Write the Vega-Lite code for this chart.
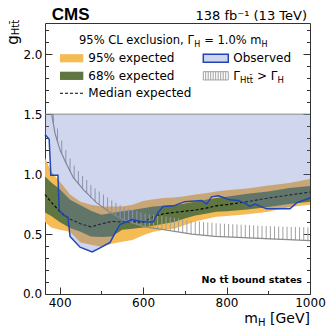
{
  "$schema": "https://vega.github.io/schema/vega-lite/v6.json",
  "width": 265,
  "height": 271,
  "autosize": {"type": "none"},
  "padding": {"left": 45, "top": 23, "right": 23, "bottom": 39},
  "background": "white",
  "config": {
    "view": {"stroke": "#333", "strokeWidth": 1},
    "axis": {"domain": false, "grid": false, "labelFont": "DejaVu Sans", "labelFontSize": 12, "labelColor": "#000", "tickColor": "#333", "tickWidth": 1, "labelOverlap": false, "labelBound": false, "labelFlush": false},
    "text": {"font": "DejaVu Sans", "color": "#000"}
  },
  "resolve": {"axis": {"y": "independent"}},
  "datasets": {
    "bands": [
      {"m":365,"lo95":0.60,"lo68":0.68,"med":0.83,"hi68":0.98,"hi95":1.135},
      {"m":380,"lo95":0.555,"lo68":0.65,"med":0.765,"hi68":0.93,"hi95":1.02},
      {"m":400,"lo95":0.535,"lo68":0.60,"med":0.69,"hi68":0.875,"hi95":0.94},
      {"m":425,"lo95":0.52,"lo68":0.55,"med":0.625,"hi68":0.785,"hi95":0.83},
      {"m":450,"lo95":0.43,"lo68":0.52,"med":0.585,"hi68":0.74,"hi95":0.77},
      {"m":475,"lo95":0.41,"lo68":0.48,"med":0.56,"hi68":0.695,"hi95":0.745},
      {"m":500,"lo95":0.395,"lo68":0.475,"med":0.585,"hi68":0.66,"hi95":0.73},
      {"m":525,"lo95":0.42,"lo68":0.48,"med":0.605,"hi68":0.675,"hi95":0.73},
      {"m":550,"lo95":0.435,"lo68":0.535,"med":0.60,"hi68":0.69,"hi95":0.73},
      {"m":575,"lo95":0.45,"lo68":0.545,"med":0.60,"hi68":0.70,"hi95":0.745},
      {"m":600,"lo95":0.49,"lo68":0.555,"med":0.60,"hi68":0.715,"hi95":0.775},
      {"m":625,"lo95":0.52,"lo68":0.57,"med":0.645,"hi68":0.73,"hi95":0.79},
      {"m":650,"lo95":0.535,"lo68":0.585,"med":0.67,"hi68":0.735,"hi95":0.80},
      {"m":675,"lo95":0.545,"lo68":0.60,"med":0.68,"hi68":0.74,"hi95":0.805},
      {"m":700,"lo95":0.575,"lo68":0.63,"med":0.69,"hi68":0.755,"hi95":0.815},
      {"m":725,"lo95":0.605,"lo68":0.655,"med":0.70,"hi68":0.77,"hi95":0.83},
      {"m":750,"lo95":0.625,"lo68":0.67,"med":0.715,"hi68":0.785,"hi95":0.84},
      {"m":775,"lo95":0.645,"lo68":0.685,"med":0.735,"hi68":0.80,"hi95":0.855},
      {"m":800,"lo95":0.65,"lo68":0.69,"med":0.745,"hi68":0.81,"hi95":0.865},
      {"m":850,"lo95":0.665,"lo68":0.705,"med":0.77,"hi68":0.835,"hi95":0.88},
      {"m":900,"lo95":0.685,"lo68":0.725,"med":0.80,"hi68":0.855,"hi95":0.905},
      {"m":950,"lo95":0.725,"lo68":0.75,"med":0.825,"hi68":0.885,"hi95":0.925},
      {"m":1000,"lo95":0.745,"lo68":0.77,"med":0.85,"hi68":0.90,"hi95":0.96}
    ],
    "obs": [
      {"m":365,"g":1.33},{"m":375,"g":1.29},{"m":379,"g":0.99},{"m":396,"g":0.99},{"m":399,"g":0.70},
      {"m":408,"g":0.66},{"m":420,"g":0.64},{"m":425,"g":0.48},{"m":449,"g":0.39},{"m":478,"g":0.35},
      {"m":497,"g":0.385},{"m":521,"g":0.43},{"m":533,"g":0.51},{"m":545,"g":0.58},{"m":574,"g":0.62},
      {"m":600,"g":0.60},{"m":624,"g":0.60},{"m":636,"g":0.68},{"m":648,"g":0.73},{"m":673,"g":0.735},
      {"m":700,"g":0.77},{"m":740,"g":0.78},{"m":752,"g":0.75},{"m":764,"g":0.81},{"m":780,"g":0.82},
      {"m":796,"g":0.80},{"m":808,"g":0.785},{"m":828,"g":0.78},{"m":848,"g":0.75},{"m":856,"g":0.73},
      {"m":868,"g":0.75},{"m":896,"g":0.71},{"m":952,"g":0.71},{"m":968,"g":0.76},{"m":983,"g":0.78},
      {"m":1000,"g":0.80}
    ],
    "curve": [
      {"m":381,"g":1.5},{"m":389,"g":1.34},{"m":401,"g":1.20},{"m":417,"g":1.08},{"m":433,"g":0.97},
      {"m":457,"g":0.87},{"m":489,"g":0.76},{"m":521,"g":0.68},{"m":552,"g":0.62},{"m":605,"g":0.56},
      {"m":653,"g":0.535},{"m":717,"g":0.50},{"m":772,"g":0.48},{"m":840,"g":0.47},{"m":920,"g":0.457},
      {"m":1000,"g":0.445}
    ],
    "hatch": [
      {"m":385,"lo":1.42,"hi":1.5},{"m":395,"lo":1.27,"hi":1.38},{"m":405,"lo":1.17,"hi":1.28},
      {"m":415,"lo":1.09,"hi":1.2},{"m":425,"lo":1.02,"hi":1.13},{"m":435,"lo":0.96,"hi":1.07},
      {"m":445,"lo":0.915,"hi":1.025},{"m":455,"lo":0.875,"hi":0.985},{"m":465,"lo":0.84,"hi":0.95},
      {"m":475,"lo":0.80,"hi":0.91},{"m":485,"lo":0.77,"hi":0.88},{"m":495,"lo":0.745,"hi":0.855},
      {"m":505,"lo":0.72,"hi":0.83},{"m":515,"lo":0.695,"hi":0.805},{"m":525,"lo":0.67,"hi":0.78},
      {"m":535,"lo":0.65,"hi":0.76},{"m":545,"lo":0.63,"hi":0.74},{"m":555,"lo":0.615,"hi":0.725},
      {"m":565,"lo":0.60,"hi":0.71},{"m":575,"lo":0.59,"hi":0.70},{"m":585,"lo":0.58,"hi":0.69},
      {"m":595,"lo":0.57,"hi":0.68},{"m":605,"lo":0.56,"hi":0.67},{"m":615,"lo":0.555,"hi":0.665},
      {"m":625,"lo":0.55,"hi":0.66},{"m":635,"lo":0.545,"hi":0.655},{"m":645,"lo":0.54,"hi":0.65},
      {"m":655,"lo":0.535,"hi":0.645},{"m":665,"lo":0.53,"hi":0.64},{"m":675,"lo":0.525,"hi":0.635},
      {"m":685,"lo":0.52,"hi":0.63},{"m":695,"lo":0.51,"hi":0.62},{"m":705,"lo":0.505,"hi":0.615},
      {"m":715,"lo":0.50,"hi":0.61},{"m":725,"lo":0.497,"hi":0.607},{"m":735,"lo":0.494,"hi":0.604},
      {"m":745,"lo":0.49,"hi":0.60},{"m":755,"lo":0.487,"hi":0.597},{"m":765,"lo":0.484,"hi":0.594},
      {"m":775,"lo":0.48,"hi":0.59},{"m":785,"lo":0.478,"hi":0.588},{"m":795,"lo":0.476,"hi":0.586},
      {"m":805,"lo":0.474,"hi":0.584},{"m":815,"lo":0.472,"hi":0.582},{"m":825,"lo":0.47,"hi":0.58},
      {"m":835,"lo":0.468,"hi":0.578},{"m":845,"lo":0.466,"hi":0.576},{"m":855,"lo":0.464,"hi":0.574},
      {"m":865,"lo":0.462,"hi":0.572},{"m":875,"lo":0.46,"hi":0.57},{"m":885,"lo":0.458,"hi":0.568},
      {"m":895,"lo":0.456,"hi":0.566},{"m":905,"lo":0.455,"hi":0.565},{"m":915,"lo":0.454,"hi":0.564},
      {"m":925,"lo":0.453,"hi":0.563},{"m":935,"lo":0.452,"hi":0.562},{"m":945,"lo":0.451,"hi":0.561},
      {"m":955,"lo":0.45,"hi":0.56},{"m":965,"lo":0.449,"hi":0.559},{"m":975,"lo":0.448,"hi":0.558},
      {"m":985,"lo":0.447,"hi":0.557},{"m":995,"lo":0.446,"hi":0.556}
    ],
    "leghatch": [
      {"m":750},{"m":756},{"m":762},{"m":768},{"m":774},{"m":780},{"m":786},{"m":792},{"m":798}
    ],
    "one": [{}]
  },
  "layer": [
    {
      "data": {"name": "bands"},
      "mark": {"type": "area", "color": "#F5BB54", "opacity": 1},
      "encoding": {
        "x": {"field": "m", "type": "quantitative",
          "scale": {"domain": [365, 1000], "nice": false, "zero": false},
          "axis": {"orient": "bottom", "title": null, "format": "d",
            "values": [400,450,500,550,600,650,700,750,800,850,900,950,1000],
            "labelExpr": "datum.value % 200 === 0 ? datum.label : ''",
            "tickSize": {"condition": {"test": "datum.value % 200 === 0", "value": -7}, "value": -3.5},
            "labelPadding": 10, "labelOverlap": false, "labelBound": false, "labelFlush": false}},
        "y": {"field": "lo95", "type": "quantitative",
          "scale": {"domain": [0, 2.26], "nice": false, "zero": false},
          "axis": {"orient": "left", "title": null, "format": ".1f",
            "values": [0,0.1,0.2,0.3,0.4,0.5,0.6,0.7,0.8,0.9,1.0,1.1,1.2,1.3,1.4,1.5,1.6,1.7,1.8,1.9,2.0,2.1,2.2],
            "labelExpr": "datum.value > 0.05 && round(datum.value*10) % 5 === 0 ? datum.label : ''",
            "tickSize": {"condition": {"test": "round(datum.value*10) % 5 === 0", "value": -7}, "value": -3.5},
            "labelPadding": 10, "labelOverlap": false, "labelBound": false, "labelFlush": false}},
        "y2": {"field": "hi95"}
      }
    },
    {
      "data": {"name": "bands"},
      "mark": {"type": "area", "color": "#607641", "opacity": 1},
      "encoding": {
        "x": {"field": "m", "type": "quantitative"},
        "y": {"field": "lo68", "type": "quantitative", "axis": null},
        "y2": {"field": "hi68"}
      }
    },
    {
      "data": {"name": "bands"},
      "mark": {"type": "line", "color": "#000", "strokeWidth": 1.1, "strokeDash": [3, 2]},
      "encoding": {
        "x": {"field": "m", "type": "quantitative"},
        "y": {"field": "med", "type": "quantitative", "axis": null}
      }
    },
    {
      "data": {"name": "hatch"},
      "mark": {"type": "rule", "color": "#a0a0a0", "strokeWidth": 1},
      "encoding": {
        "x": {"field": "m", "type": "quantitative"},
        "y": {"field": "lo", "type": "quantitative", "axis": null},
        "y2": {"field": "hi"}
      }
    },
    {
      "data": {"name": "curve"},
      "mark": {"type": "line", "color": "#8c8c8c", "strokeWidth": 1.2},
      "encoding": {
        "x": {"field": "m", "type": "quantitative"},
        "y": {"field": "g", "type": "quantitative", "axis": null}
      }
    },
    {
      "data": {"name": "obs"},
      "mark": {"type": "area", "color": "rgb(100,120,200)", "opacity": 0.3},
      "encoding": {
        "x": {"field": "m", "type": "quantitative"},
        "y": {"field": "g", "type": "quantitative", "axis": null},
        "y2": {"datum": 1.5}
      }
    },
    {
      "data": {"name": "obs"},
      "mark": {"type": "line", "color": "#1f45b8", "strokeWidth": 1.5},
      "encoding": {
        "x": {"field": "m", "type": "quantitative"},
        "y": {"field": "g", "type": "quantitative",
          "axis": {"orient": "right", "title": null, "labels": false,
            "values": [0,0.1,0.2,0.3,0.4,0.5,0.6,0.7,0.8,0.9,1.0,1.1,1.2,1.3,1.4,1.5,1.6,1.7,1.8,1.9,2.0,2.1,2.2],
            "tickSize": {"condition": {"test": "round(datum.value*10) % 5 === 0", "value": -7}, "value": -3.5}}}
      }
    },
    {
      "data": {"name": "one"},
      "mark": {"type": "rule", "color": "#888", "strokeWidth": 1},
      "encoding": {"y": {"datum": 1.5, "type": "quantitative", "axis": null}}
    },
    {
      "data": {"name": "one"},
      "mark": {"type": "rect", "color": "#F5BB54"},
      "encoding": {"x": {"datum": 400.9, "type": "quantitative"}, "x2": {"datum": 456.8},
        "y": {"datum": 2.0, "type": "quantitative", "axis": null}, "y2": {"datum": 1.932}}
    },
    {
      "data": {"name": "one"},
      "mark": {"type": "rect", "color": "#607641"},
      "encoding": {"x": {"datum": 400.9, "type": "quantitative"}, "x2": {"datum": 456.8},
        "y": {"datum": 1.854, "type": "quantitative", "axis": null}, "y2": {"datum": 1.785}}
    },
    {
      "data": {"name": "one"},
      "mark": {"type": "rule", "color": "#000", "strokeWidth": 1.1, "strokeDash": [3, 2]},
      "encoding": {"x": {"datum": 400.9, "type": "quantitative"}, "x2": {"datum": 456.8},
        "y": {"datum": 1.674, "type": "quantitative", "axis": null}}
    },
    {
      "data": {"name": "one"},
      "mark": {"type": "rect", "fill": "rgb(100,120,200)", "fillOpacity": 0.3, "stroke": "#1f45b8", "strokeWidth": 1.5},
      "encoding": {"x": {"datum": 744.3, "type": "quantitative"}, "x2": {"datum": 804.2},
        "y": {"datum": 2.0, "type": "quantitative", "axis": null}, "y2": {"datum": 1.932}}
    },
    {
      "data": {"name": "leghatch"},
      "mark": {"type": "rule", "color": "#a0a0a0", "strokeWidth": 1},
      "encoding": {"x": {"field": "m", "type": "quantitative"},
        "y": {"datum": 1.854, "type": "quantitative", "axis": null}, "y2": {"datum": 1.785}}
    },
    {
      "data": {"name": "one"},
      "mark": {"type": "rect", "fill": null, "fillOpacity": 0, "stroke": "#a0a0a0", "strokeWidth": 1},
      "encoding": {"x": {"datum": 744.3, "type": "quantitative"}, "x2": {"datum": 804.2},
        "y": {"datum": 1.854, "type": "quantitative", "axis": null}, "y2": {"datum": 1.785}}
    },
    {
      "data": {"name": "one"},
      "mark": {"type": "text", "text": "0.0", "fontSize": 12, "align": "right", "baseline": "middle"},
      "encoding": {"x": {"datum": 358, "type": "quantitative"}, "y": {"datum": 0.004, "type": "quantitative", "axis": null}}
    },
    {
      "data": {"name": "one"},
      "mark": {"type": "text", "text": "95% CL exclusion, Γ", "fontSize": 11.5, "align": "left", "baseline": "alphabetic"},
      "encoding": {"x": {"datum": 446.5, "type": "quantitative"}, "y": {"datum": 2.085, "type": "quantitative", "axis": null}}
    },
    {
      "data": {"name": "one"},
      "mark": {"type": "text", "text": "H", "fontSize": 8, "align": "left", "baseline": "alphabetic"},
      "encoding": {"x": {"datum": 722.5, "type": "quantitative"}, "y": {"datum": 2.063, "type": "quantitative", "axis": null}}
    },
    {
      "data": {"name": "one"},
      "mark": {"type": "text", "text": "=  1.0% m", "fontSize": 11.5, "align": "left", "baseline": "alphabetic"},
      "encoding": {"x": {"datum": 746.5, "type": "quantitative"}, "y": {"datum": 2.085, "type": "quantitative", "axis": null}}
    },
    {
      "data": {"name": "one"},
      "mark": {"type": "text", "text": "H", "fontSize": 8, "align": "left", "baseline": "alphabetic"},
      "encoding": {"x": {"datum": 884.0, "type": "quantitative"}, "y": {"datum": 2.063, "type": "quantitative", "axis": null}}
    },
    {
      "data": {"name": "one"},
      "mark": {"type": "text", "text": "95% expected", "fontSize": 12, "align": "left", "baseline": "alphabetic"},
      "encoding": {"x": {"datum": 468.8, "type": "quantitative"}, "y": {"datum": 1.932, "type": "quantitative", "axis": null}}
    },
    {
      "data": {"name": "one"},
      "mark": {"type": "text", "text": "68% expected", "fontSize": 12, "align": "left", "baseline": "alphabetic"},
      "encoding": {"x": {"datum": 468.8, "type": "quantitative"}, "y": {"datum": 1.785, "type": "quantitative", "axis": null}}
    },
    {
      "data": {"name": "one"},
      "mark": {"type": "text", "text": "Median expected", "fontSize": 12, "align": "left", "baseline": "alphabetic"},
      "encoding": {"x": {"datum": 468.8, "type": "quantitative"}, "y": {"datum": 1.64, "type": "quantitative", "axis": null}}
    },
    {
      "data": {"name": "one"},
      "mark": {"type": "text", "text": "Observed", "fontSize": 12, "align": "left", "baseline": "alphabetic"},
      "encoding": {"x": {"datum": 816.2, "type": "quantitative"}, "y": {"datum": 1.932, "type": "quantitative", "axis": null}}
    },
    {
      "data": {"name": "one"},
      "mark": {"type": "text", "text": "Γ", "fontSize": 12, "align": "left", "baseline": "alphabetic"},
      "encoding": {"x": {"datum": 816.2, "type": "quantitative"}, "y": {"datum": 1.785, "type": "quantitative", "axis": null}}
    },
    {
      "data": {"name": "one"},
      "mark": {"type": "text", "text": "Htt̄", "fontSize": 8.5, "align": "left", "baseline": "alphabetic"},
      "encoding": {"x": {"datum": 832.3, "type": "quantitative"}, "y": {"datum": 1.762, "type": "quantitative", "axis": null}}
    },
    {
      "data": {"name": "one"},
      "mark": {"type": "text", "text": "> Γ", "fontSize": 12, "align": "left", "baseline": "alphabetic"},
      "encoding": {"x": {"datum": 873.0, "type": "quantitative"}, "y": {"datum": 1.785, "type": "quantitative", "axis": null}}
    },
    {
      "data": {"name": "one"},
      "mark": {"type": "text", "text": "H", "fontSize": 8.5, "align": "left", "baseline": "alphabetic"},
      "encoding": {"x": {"datum": 922.4, "type": "quantitative"}, "y": {"datum": 1.762, "type": "quantitative", "axis": null}}
    },
    {
      "data": {"name": "one"},
      "mark": {"type": "text", "text": "No tt̄ bound states", "fontSize": 9.5, "fontWeight": "bold", "align": "right", "baseline": "alphabetic"},
      "encoding": {"x": {"datum": 980.8, "type": "quantitative"}, "y": {"datum": 0.089, "type": "quantitative", "axis": null}}
    },
    {
      "data": {"name": "one"},
      "mark": {"type": "text", "text": "CMS", "font": "Liberation Sans", "fontSize": 17, "fontWeight": "bold", "align": "left", "baseline": "alphabetic"},
      "encoding": {"x": {"datum": 381.1, "type": "quantitative"}, "y": {"datum": 2.285, "type": "quantitative", "axis": null}}
    },
    {
      "data": {"name": "one"},
      "mark": {"type": "text", "text": "138 fb⁻¹ (13 TeV)", "fontSize": 13, "align": "right", "baseline": "alphabetic"},
      "encoding": {"x": {"datum": 992.8, "type": "quantitative"}, "y": {"datum": 2.289, "type": "quantitative", "axis": null}}
    },
    {
      "data": {"name": "one"},
      "mark": {"type": "text", "text": "m", "fontSize": 14, "align": "right", "baseline": "alphabetic"},
      "encoding": {"x": {"datum": 875.4, "type": "quantitative"}, "y": {"datum": -0.242, "type": "quantitative", "axis": null}}
    },
    {
      "data": {"name": "one"},
      "mark": {"type": "text", "text": "H", "fontSize": 10, "align": "left", "baseline": "alphabetic"},
      "encoding": {"x": {"datum": 875.4, "type": "quantitative"}, "y": {"datum": -0.271, "type": "quantitative", "axis": null}}
    },
    {
      "data": {"name": "one"},
      "mark": {"type": "text", "text": "[GeV]", "fontSize": 14, "align": "right", "baseline": "alphabetic"},
      "encoding": {"x": {"datum": 1000, "type": "quantitative"}, "y": {"datum": -0.242, "type": "quantitative", "axis": null}}
    },
    {
      "data": {"name": "one"},
      "mark": {"type": "text", "text": "g", "fontSize": 15, "angle": 270, "align": "center", "baseline": "alphabetic"},
      "encoding": {"x": {"datum": 300.3, "type": "quantitative"}, "y": {"datum": 2.118, "type": "quantitative", "axis": null}}
    },
    {
      "data": {"name": "one"},
      "mark": {"type": "text", "text": "Htt̄", "fontSize": 10, "angle": 270, "align": "center", "baseline": "alphabetic"},
      "encoding": {"x": {"datum": 302.7, "type": "quantitative"}, "y": {"datum": 2.222, "type": "quantitative", "axis": null}}
    }
  ]
}
